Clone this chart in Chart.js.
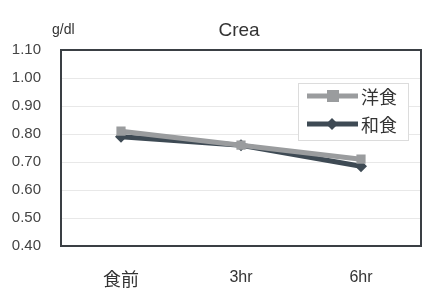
<!DOCTYPE html>
<html><head><meta charset="utf-8">
<script src="https://cdn.jsdelivr.net/npm/chart.js@4"></script>
<style>html,body{margin:0;padding:0;background:#fff;}#wrap{position:relative;width:431px;height:292px;}</style>
</head><body><div id="wrap"><canvas id="c" width="431" height="292"></canvas></div>
<script>
const categories = ['食前', '3hr', '6hr'];
const seriesNames = ['洋食', '和食'];
const western = [0.81, 0.76, 0.71];
const japanese = [0.79, 0.76, 0.685];
const yTicks = [0.40, 0.50, 0.60, 0.70, 0.80, 0.90, 1.00, 1.10];
const titleText = 'Crea';
const unitText = 'g/dl';

const FONT = '"Liberation Sans", Arial, "Noto Sans CJK JP", sans-serif';
const C1 = '#9a9c9e', C2 = '#3e4a54';

const deco = {
  id: 'deco',
  afterDatasetsDraw(chart) {
    const {ctx, chartArea: a} = chart;
    ctx.save();
    ctx.strokeStyle = '#3a3f44'; ctx.lineWidth = 2;
    ctx.strokeRect(a.left, a.top, a.right - a.left, a.bottom - a.top);
    ctx.fillStyle = '#333';
    ctx.font = '19px ' + FONT; ctx.textAlign = 'center'; ctx.textBaseline = 'middle';
    ctx.fillText(titleText, 239, 31);
    ctx.font = '14px ' + FONT; ctx.textAlign = 'left';
    ctx.fillText(unitText, 52, 30);
    // legend
    const lx = 298, ly = 83, lw = 110, lh = 57;
    ctx.fillStyle = '#fff'; ctx.fillRect(lx, ly, lw, lh);
    ctx.strokeStyle = '#dcdcdc'; ctx.lineWidth = 1; ctx.strokeRect(lx + .5, ly + .5, lw, lh);
    chart.data.datasets.forEach((ds, i) => {
      const y = ly + 13 + i * 28;
      ctx.strokeStyle = ds.borderColor; ctx.lineWidth = 5;
      ctx.beginPath(); ctx.moveTo(307, y); ctx.lineTo(358, y); ctx.stroke();
      ctx.fillStyle = ds.borderColor;
      if (ds.pointStyle === 'rect') { ctx.fillRect(327, y - 6, 12, 12); }
      else { ctx.beginPath(); ctx.moveTo(332, y - 6); ctx.lineTo(338, y); ctx.lineTo(332, y + 6); ctx.lineTo(326, y); ctx.closePath(); ctx.fill(); }
      ctx.fillStyle = '#333'; ctx.font = '18px "Noto Sans CJK JP", sans-serif'; ctx.textAlign = 'left';
      ctx.fillText(ds.label, 361, y + 1);
    });
    ctx.restore();
  }
};

new Chart(document.getElementById('c'), {
  type: 'line',
  data: {
    labels: categories,
    datasets: [
      {label: seriesNames[0], data: western, borderColor: C1, backgroundColor: C1, borderWidth: 5,
       pointStyle: 'rect', pointRadius: 6.5, pointBorderWidth: 0, tension: 0},
      {label: seriesNames[1], data: japanese, borderColor: C2, backgroundColor: C2, borderWidth: 5,
       pointStyle: 'rectRot', pointRadius: 6, pointBorderWidth: 0, tension: 0}
    ]
  },
  options: {
    responsive: false, animation: false, devicePixelRatio: 1,
    layout: {padding: {top: 50, right: 10, left: 0, bottom: 0}},
    plugins: {legend: {display: false}, title: {display: false}, tooltip: {enabled: false}},
    scales: {
      x: {
        offset: true,
        grid: {display: false},
        border: {display: false},
        ticks: {color: '#333',
                font: ctx => ({size: ctx.index === 0 ? 18 : 16, family: ctx.index === 0 ? '"Noto Sans CJK JP", sans-serif' : FONT}),
                padding: 14},
        afterFit(s) { s.height = 46; }
      },
      y: {
        min: 0.4, max: 1.1,
        afterBuildTicks(s) { s.ticks = yTicks.map(v => ({value: v})); },
        grid: {color: '#e8e8e8', lineWidth: 1, drawTicks: false},
        border: {display: false},
        ticks: {color: '#444', font: {size: 15, family: FONT}, padding: 20,
                callback: v => Number(v).toFixed(2)},
        afterFit(s) { s.width = 61; }
      }
    }
  },
  plugins: [deco]
});
</script></body></html>
